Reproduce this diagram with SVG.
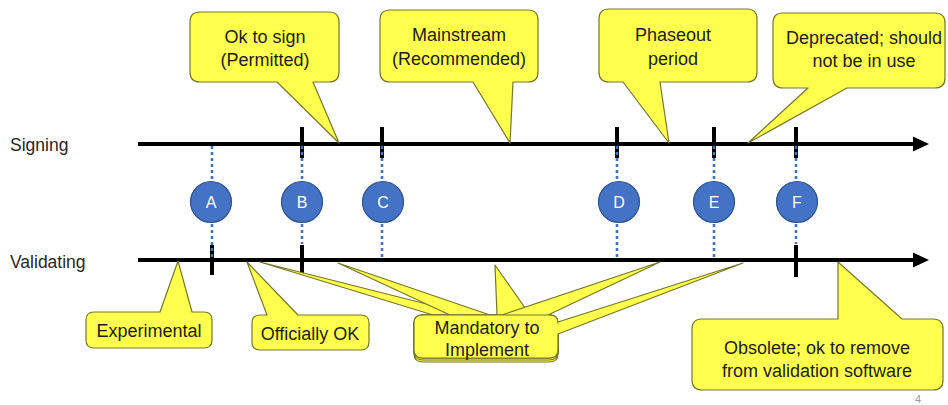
<svg xmlns="http://www.w3.org/2000/svg" width="948" height="405" viewBox="0 0 948 405">
<defs>
<style>
.co{fill:#FFFF4D;stroke:#76762A;stroke-width:1.2;stroke-linejoin:round}
.t{font-family:"Liberation Sans",Arial,sans-serif;font-size:18px;fill:#1c1c1c;text-anchor:middle}
.lbl{font-family:"Liberation Sans",Arial,sans-serif;font-size:17.5px;fill:#262626}
.axis{stroke:#000;stroke-width:4}
.tick{stroke:#000;stroke-width:4}
.dot{stroke:#4472C4;stroke-width:2.6;stroke-dasharray:3 3}
.c{fill:#4472C4;stroke:#2F528F;stroke-width:1.2}
.ct{font-family:"Liberation Sans",Arial,sans-serif;font-size:16px;fill:#fff;text-anchor:middle}
</style>
</defs>
<rect width="948" height="405" fill="#fff"/>

<g id="connectors">
<line class="axis" x1="138" y1="144" x2="915" y2="144"/>
<polygon points="913,136.5 929,144 913,151.5" fill="#000"/>
<line class="axis" x1="138" y1="260" x2="915" y2="260"/>
<polygon points="913,252.5 929,260 913,267.5" fill="#000"/>
<line class="tick" x1="302" y1="127" x2="302" y2="158"/>
<line class="tick" x1="382" y1="127" x2="382" y2="158"/>
<line class="tick" x1="617" y1="127" x2="617" y2="158"/>
<line class="tick" x1="714" y1="127" x2="714" y2="158"/>
<line class="tick" x1="796" y1="127" x2="796" y2="158"/>
<line class="tick" x1="212" y1="245" x2="212" y2="275"/>
<line class="tick" x1="302" y1="245" x2="302" y2="273"/>
<line class="tick" x1="796" y1="245" x2="796" y2="277"/>
<line class="dot" x1="212" y1="146" x2="212" y2="258"/>
<line class="dot" x1="302" y1="146" x2="302" y2="244"/>
<line class="dot" x1="382" y1="146" x2="382" y2="258"/>
<line class="dot" x1="617" y1="146" x2="617" y2="258"/>
<line class="dot" x1="714" y1="146" x2="714" y2="258"/>
<line class="dot" x1="796" y1="146" x2="796" y2="244"/>
</g>

<g id="label-signing"><text class="lbl" x="10" y="151">Signing</text></g>
<g id="label-validating"><text class="lbl" x="10" y="268">Validating</text></g>

<g id="node-A"><circle class="c" cx="211" cy="202" r="20.5"/><text class="ct" x="211" y="208">A</text></g>
<g id="node-B"><circle class="c" cx="302" cy="202" r="20.5"/><text class="ct" x="302" y="208">B</text></g>
<g id="node-C"><circle class="c" cx="383" cy="202" r="20.5"/><text class="ct" x="383" y="208">C</text></g>
<g id="node-D"><circle class="c" cx="619" cy="202" r="20.5"/><text class="ct" x="619" y="208">D</text></g>
<g id="node-E"><circle class="c" cx="714" cy="202" r="20.5"/><text class="ct" x="714" y="208">E</text></g>
<g id="node-F"><circle class="c" cx="797" cy="202" r="20.5"/><text class="ct" x="797" y="208">F</text></g>

<g id="callout-ok-to-sign">
<path class="co" d="M200,12 H329 Q339,12 339,22 V72 Q339,82 329,82 H313 L339,143 L277,82 H200 Q190,82 190,72 V22 Q190,12 200,12 Z"/>
<text class="t" x="265" y="43">Ok to sign</text>
<text class="t" x="265" y="66">(Permitted)</text>
</g>
<g id="callout-mainstream">
<path class="co" d="M390,10 H528 Q538,10 538,20 V72 Q538,82 528,82 H513 L510,143 L473,82 H390 Q380,82 380,72 V20 Q380,10 390,10 Z"/>
<text class="t" x="459" y="41">Mainstream</text>
<text class="t" x="459" y="65">(Recommended)</text>
</g>
<g id="callout-phaseout">
<path class="co" d="M609,9 H747 Q757,9 757,19 V72 Q757,82 747,82 H660 L669,143 L623,82 H609 Q599,82 599,72 V19 Q599,9 609,9 Z"/>
<text class="t" x="673" y="41">Phaseout</text>
<text class="t" x="673" y="65">period</text>
</g>
<g id="callout-deprecated">
<path class="co" d="M783,13 H935 Q945,13 945,23 V78 Q945,88 935,88 H847 L748,143 L808,88 H783 Q773,88 773,78 V23 Q773,13 783,13 Z"/>
<text class="t" x="864" y="44">Deprecated; should</text>
<text class="t" x="864" y="67">not be in use</text>
</g>

<g id="callout-experimental">
<path class="co" d="M94,312 H160 L178,261 L192,312 H204 Q212,312 212,320 V340 Q212,348 204,348 H94 Q86,348 86,340 V320 Q86,312 94,312 Z"/>
<text class="t" x="149" y="337">Experimental</text>
</g>
<g id="callout-officially-ok">
<path class="co" d="M260,315 H267 L247,262 L298,315 H361 Q369,315 369,323 V342 Q369,350 361,350 H260 Q252,350 252,342 V323 Q252,315 260,315 Z"/>
<text class="t" x="310" y="340">Officially OK</text>
</g>
<g id="callout-mandatory">
<path class="co" d="M423,315 H433 L260,262 L470,315 H549 Q558,315 558,323 V354 Q558,362 549,362 H423 Q414,362 414,354 V323 Q414,315 423,315 Z"/>
<path class="co" d="M423,315 H450 L338,263 L490,315 H549 Q558,315 558,323 V352 Q558,360 549,360 H423 Q414,360 414,352 V323 Q414,315 423,315 Z"/>
<path class="co" d="M423,315 H497 L495,265 L530,315 H549 Q558,315 558,323 V350 Q558,358 549,358 H423 Q414,358 414,350 V323 Q414,315 423,315 Z"/>
<path class="co" d="M423,315 H502 L660,262 L548,315 H549 Q558,315 558,323 V350 Q558,358 549,358 H423 Q414,358 414,350 V323 Q414,315 423,315 Z"/>
<path class="co" d="M423,315 H549 Q558,315 558,323 V322 L743,263 L558,334 V350 Q558,358 549,358 H423 Q414,358 414,350 V323 Q414,315 423,315 Z"/>
<text class="t" x="487" y="334">Mandatory to</text>
<text class="t" x="487" y="356">Implement</text>
</g>
<g id="callout-obsolete">
<path class="co" d="M702,319 H838 L838,262 L902,319 H933 Q943,319 943,329 V380 Q943,390 933,390 H702 Q692,390 692,380 V329 Q692,319 702,319 Z"/>
<text class="t" x="817" y="354">Obsolete; ok to remove</text>
<text class="t" x="817" y="377">from validation software</text>
</g>

<text x="918" y="403" font-family="Liberation Sans,Arial,sans-serif" font-size="11" fill="#9a9a9a" text-anchor="middle">4</text>
</svg>
